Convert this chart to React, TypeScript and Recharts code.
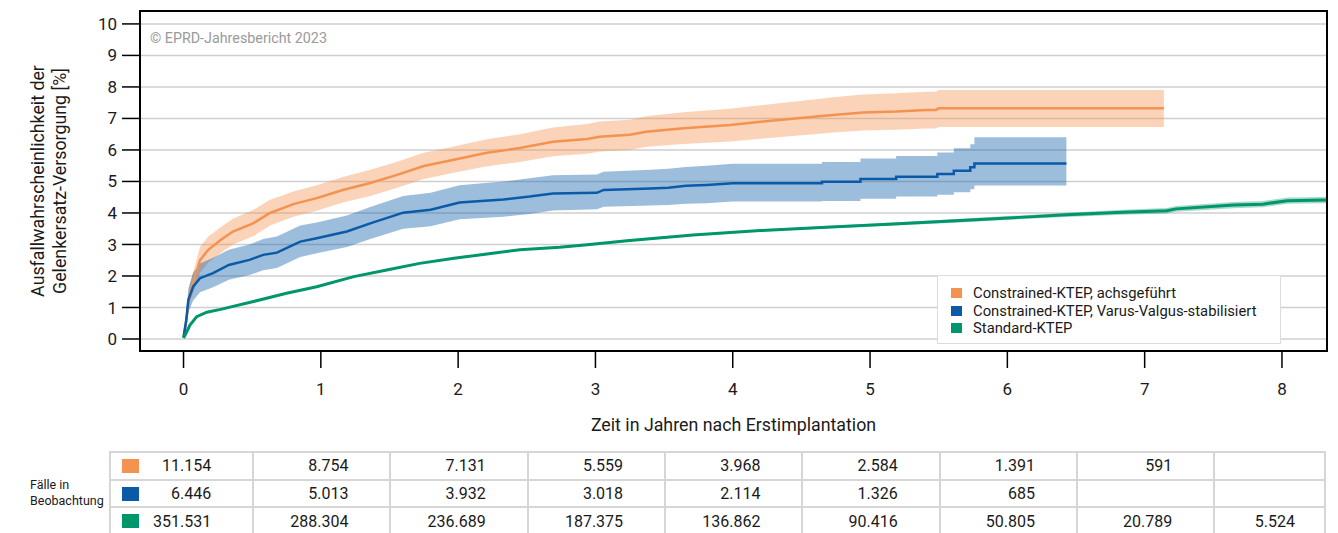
import React from 'react';
import {
  ComposedChart, Line, Area, XAxis, YAxis, CartesianGrid, ReferenceArea,
} from 'recharts';

// ---------- data ----------
const seriesNames = [
  'Constrained-KTEP, achsgeführt',
  'Constrained-KTEP, Varus-Valgus-stabilisiert',
  'Standard-KTEP',
];
const seriesColors = ['#F4924F', '#0A5AA8', '#00966B'];
const bandColors = ['#F4924F', '#0A5AA8', '#00966B'];

const orangeT = [0, 0.02, 0.047, 0.084, 0.12, 0.18, 0.27, 0.36, 0.51, 0.63, 0.8, 0.97, 1.16, 1.36, 1.55, 1.75, 1.96, 2.21, 2.45, 2.69, 2.94, 3.03, 3.25, 3.37, 3.64, 3.98, 4.22, 4.59, 4.73, 4.95, 5.19, 5.41, 5.48, 5.5, 7.14];
const orangeV = [0.05, 0.6, 1.46, 1.98, 2.5, 2.83, 3.14, 3.41, 3.68, 4.0, 4.28, 4.47, 4.73, 4.95, 5.2, 5.49, 5.68, 5.91, 6.06, 6.26, 6.35, 6.42, 6.48, 6.58, 6.69, 6.79, 6.9, 7.05, 7.11, 7.19, 7.22, 7.27, 7.27, 7.32, 7.32];
const orangeLo = [0.02, 0.45, 1.2, 1.62, 2.1, 2.42, 2.73, 3.0, 3.27, 3.6, 3.88, 4.07, 4.33, 4.54, 4.79, 5.08, 5.27, 5.48, 5.62, 5.8, 5.88, 5.95, 6.0, 6.1, 6.19, 6.27, 6.36, 6.5, 6.55, 6.62, 6.64, 6.68, 6.68, 6.73, 6.73];
const orangeHi = [0.1, 0.75, 1.75, 2.33, 2.92, 3.25, 3.55, 3.82, 4.1, 4.42, 4.68, 4.88, 5.14, 5.37, 5.62, 5.91, 6.1, 6.34, 6.5, 6.71, 6.82, 6.9, 6.96, 7.07, 7.2, 7.31, 7.43, 7.6, 7.67, 7.76, 7.8, 7.85, 7.85, 7.9, 7.9];

const blueT = [0, 0.02, 0.035, 0.07, 0.12, 0.215, 0.33, 0.48, 0.58, 0.68, 0.85, 0.97, 1.19, 1.36, 1.6, 1.8, 2.01, 2.33, 2.52, 2.69, 3.01, 3.06, 3.4, 3.53, 3.66, 3.81, 4.0, 4.65, 4.65, 4.93, 4.93, 5.19, 5.19, 5.49, 5.49, 5.61, 5.61, 5.73, 5.73, 5.76, 5.76, 6.43];
const blueV = [0.05, 0.6, 1.24, 1.66, 1.93, 2.09, 2.35, 2.51, 2.67, 2.74, 3.09, 3.2, 3.41, 3.67, 4.01, 4.1, 4.33, 4.43, 4.52, 4.62, 4.64, 4.73, 4.78, 4.8, 4.86, 4.89, 4.94, 4.94, 4.99, 4.99, 5.08, 5.08, 5.15, 5.15, 5.24, 5.24, 5.34, 5.34, 5.45, 5.45, 5.57, 5.57];
const blueLo = [0.02, 0.35, 0.85, 1.22, 1.48, 1.64, 1.88, 2.03, 2.18, 2.25, 2.6, 2.72, 2.92, 3.17, 3.5, 3.58, 3.8, 3.88, 3.97, 4.08, 4.12, 4.2, 4.24, 4.25, 4.29, 4.31, 4.36, 4.36, 4.38, 4.38, 4.45, 4.45, 4.52, 4.52, 4.58, 4.58, 4.66, 4.66, 4.75, 4.75, 4.87, 4.87];
const blueHi = [0.1, 0.85, 1.6, 2.1, 2.4, 2.58, 2.83, 3.0, 3.17, 3.25, 3.6, 3.7, 3.92, 4.19, 4.54, 4.64, 4.88, 5.0, 5.1, 5.2, 5.22, 5.31, 5.37, 5.4, 5.46, 5.5, 5.56, 5.56, 5.62, 5.62, 5.73, 5.73, 5.81, 5.81, 5.92, 5.92, 6.05, 6.05, 6.18, 6.18, 6.4, 6.4];

const greenT = [0, 0.02, 0.047, 0.096, 0.17, 0.27, 0.51, 0.75, 0.97, 1.24, 1.48, 1.72, 1.97, 2.21, 2.45, 2.74, 2.94, 3.23, 3.71, 4.2, 4.68, 5.17, 5.66, 6.09, 6.43, 6.84, 7.16, 7.23, 7.65, 7.86, 8.04, 8.32];
const greenV = [0.03, 0.2, 0.44, 0.71, 0.85, 0.94, 1.19, 1.45, 1.66, 1.98, 2.19, 2.4, 2.56, 2.7, 2.83, 2.91, 2.99, 3.12, 3.3, 3.44, 3.55, 3.65, 3.76, 3.86, 3.94, 4.02, 4.07, 4.13, 4.25, 4.28, 4.39, 4.41];
const greenLo = [0.02, 0.18, 0.42, 0.69, 0.83, 0.92, 1.17, 1.43, 1.64, 1.96, 2.17, 2.38, 2.54, 2.68, 2.81, 2.89, 2.97, 3.09, 3.27, 3.41, 3.51, 3.6, 3.7, 3.8, 3.87, 3.94, 3.98, 4.04, 4.15, 4.18, 4.29, 4.31];
const greenHi = [0.04, 0.22, 0.46, 0.73, 0.87, 0.96, 1.21, 1.47, 1.68, 2.0, 2.21, 2.42, 2.58, 2.72, 2.85, 2.93, 3.01, 3.15, 3.33, 3.47, 3.59, 3.7, 3.82, 3.92, 4.01, 4.1, 4.16, 4.22, 4.35, 4.38, 4.49, 4.51];

const xTicks = [0, 1, 2, 3, 4, 5, 6, 7, 8];
const yTicks = [0, 1, 2, 3, 4, 5, 6, 7, 8, 9, 10];

const casesOrange = ['11.154', '8.754', '7.131', '5.559', '3.968', '2.584', '1.391', '591', ''];
const casesBlue = ['6.446', '5.013', '3.932', '3.018', '2.114', '1.326', '685', '', ''];
const casesGreen = ['351.531', '288.304', '236.689', '187.375', '136.862', '90.416', '50.805', '20.789', '5.524'];
const casesRows = [casesOrange, casesBlue, casesGreen];

const xDomain: [number, number] = [-0.317, 8.328];
const yDomain: [number, number] = [-0.381, 10.41];

// ---------- build tables ----------
function build(t: number[], v: number[], lo: number[], hi: number[]) {
  return t.map((tt, i) => ({ t: tt, v: v[i], band: [lo[i], hi[i]] }));
}
const orangeData = build(orangeT, orangeV, orangeLo, orangeHi);
const blueData = build(blueT, blueV, blueLo, blueHi);
const greenData = build(greenT, greenV, greenLo, greenHi);
const allData = [orangeData, blueData, greenData];

const FONT = 'Roboto, "DejaVu Sans", sans-serif';
const TEXT = '#1a1a1a';

const W = 1338;
const CH = 450;
const PLOT_L = 140;
const PLOT_T = 11;
const PLOT_R = 1327;
const PLOT_B = 351;

function LegendBox() {
  return (
    <div style={{
      position: 'absolute', left: 937, top: 275, width: 344, height: 69,
      border: '1.5px solid #dcdcdc', background: '#fff', fontFamily: FONT,
      fontSize: 14.8, color: TEXT, boxSizing: 'border-box',
    }}>
      {seriesNames.map((n, i) => (
        <div key={n} style={{ position: 'absolute', left: 13, top: 9 + i * 17.5, height: 16, display: 'flex', alignItems: 'center' }}>
          <span style={{ width: 11, height: 10, background: seriesColors[i], display: 'inline-block', marginRight: 11 }} />
          <span>{n}</span>
        </div>
      ))}
    </div>
  );
}

function CasesTable() {
  // columns centred on the x ticks
  const pxPerYear = (PLOT_R - PLOT_L) / (xDomain[1] - xDomain[0]);
  const x0 = PLOT_L + (0 - xDomain[0]) * pxPerYear;
  const bounds: number[] = [109];
  for (let k = 0; k < 8; k++) bounds.push(x0 + (k + 0.5) * pxPerYear);
  bounds.push(PLOT_R - 1);
  const top = 451;
  const rowH = 27.7;
  const border = '#d6d6d6';
  return (
    <div style={{ position: 'absolute', left: 0, top: 0, fontFamily: FONT, color: TEXT }}>
      <div style={{ position: 'absolute', left: 30, top: 477, fontSize: 12.5, lineHeight: '16px' }}>
        Fälle in<br />Beobachtung
      </div>
      {casesRows.map((row, r) => (
        <React.Fragment key={r}>
          {row.map((val, c) => {
            const left = bounds[c];
            const width = bounds[c + 1] - bounds[c];
            const pr = c === 8 ? 29 : 41;
            return (
              <div key={c} style={{
                position: 'absolute', left, top: top + r * rowH, width, height: rowH,
                boxSizing: 'border-box',
                borderLeft: `2px solid ${border}`,
                borderTop: `2px solid ${border}`,
                borderRight: c === 8 ? `2px solid ${border}` : undefined,
                display: 'flex', alignItems: 'center', justifyContent: 'flex-end',
                paddingRight: pr, fontSize: 16,
              }}>
                {c === 0 && (
                  <span style={{ position: 'absolute', left: 11, top: 6, width: 17, height: 14, background: seriesColors[r] }} />
                )}
                {val}
              </div>
            );
          })}
        </React.Fragment>
      ))}
    </div>
  );
}

export default function App() {
  return (
    <div style={{ position: 'absolute', left: 0, top: 0, width: W, height: 533, background: '#fff', fontFamily: FONT }}>
      <ComposedChart
        width={W}
        height={CH}
        margin={{ top: PLOT_T, right: W - PLOT_R, left: 0, bottom: CH - PLOT_B - 60 }}
      >
        <CartesianGrid horizontal vertical={false} stroke="#cfcfcf" strokeWidth={1.5} />
        <XAxis
          type="number"
          dataKey="t"
          domain={xDomain}
          ticks={xTicks}
          allowDataOverflow
          height={60}
          axisLine={false}
          tickSize={17}
          tickMargin={15}
          tickLine={{ stroke: '#000', strokeWidth: 1.5 }}
          tick={{ fill: TEXT, fontSize: 17, fontFamily: FONT }}
          interval={0}
        />
        <YAxis
          type="number"
          domain={yDomain}
          ticks={yTicks}
          allowDataOverflow
          width={PLOT_L}
          axisLine={false}
          tickSize={18}
          tickMargin={5}
          tickLine={{ stroke: '#000', strokeWidth: 1.5 }}
          tick={{ fill: TEXT, fontSize: 17, fontFamily: FONT }}
          interval={0}
        />
        {allData.map((d, i) => (
          <Area
            key={'band' + i}
            data={d}
            dataKey="band"
            type="linear"
            stroke="none"
            fill={bandColors[i]}
            fillOpacity={i === 2 ? 0.35 : 0.4}
            isAnimationActive={false}
            activeDot={false}
          />
        ))}
        {allData.map((d, i) => (
          <Line
            key={'line' + i}
            data={d}
            dataKey="v"
            type="linear"
            stroke={seriesColors[i]}
            strokeWidth={i === 2 ? 3 : 2.5}
            dot={false}
            activeDot={false}
            isAnimationActive={false}
          />
        ))}
        <ReferenceArea
          x1={xDomain[0]} x2={xDomain[1]} y1={yDomain[0]} y2={yDomain[1]}
          fill="none" fillOpacity={0} stroke="#000" strokeWidth={2} ifOverflow="visible"
        />
      </ComposedChart>

      <div style={{ position: 'absolute', left: 150, top: 30, fontSize: 14.3, color: '#9a9a9a', fontFamily: FONT }}>
        © EPRD-Jahresbericht 2023
      </div>

      <LegendBox />

      <div style={{
        position: 'absolute', left: 47.5, top: 181, width: 0, height: 0,
      }}>
        <div style={{
          position: 'absolute', left: 0, top: 0, transform: 'translate(-50%, -50%) rotate(-90deg)',
          whiteSpace: 'nowrap', fontSize: 17.8, lineHeight: '21.5px', textAlign: 'center', color: TEXT,
        }}>
          Ausfallwahrscheinlichkeit der<br />Gelenkersatz-Versorgung [%]
        </div>
      </div>

      <div style={{
        position: 'absolute', left: (PLOT_L + PLOT_R) / 2, top: 414, transform: 'translateX(-50%)',
        fontSize: 17.8, color: TEXT, whiteSpace: 'nowrap',
      }}>
        Zeit in Jahren nach Erstimplantation
      </div>

      <CasesTable />
    </div>
  );
}
